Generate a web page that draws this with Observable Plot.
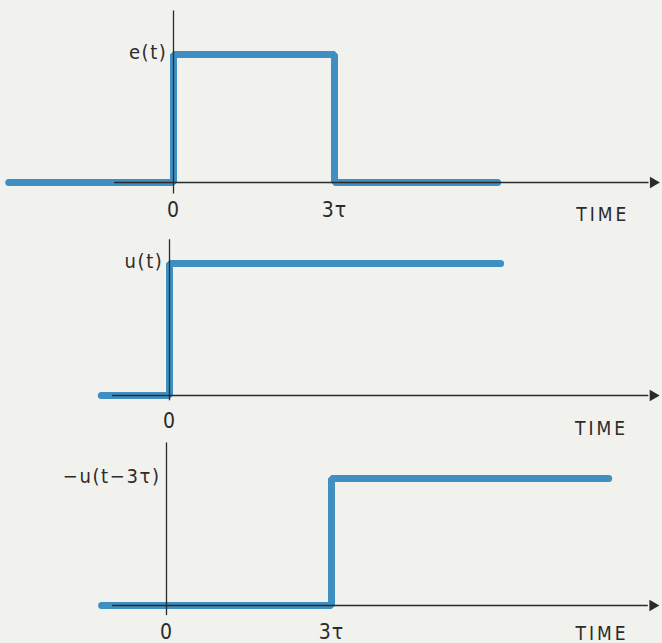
<!DOCTYPE html>
<html>
<head>
<meta charset="utf-8">
<script src="https://cdn.jsdelivr.net/npm/d3@7"></script>
<script src="https://cdn.jsdelivr.net/npm/@observablehq/plot@0.6"></script>
<style>
  html, body { margin: 0; padding: 0; background: #f1f1ee; }
  #chart { width: 662px; height: 643px; overflow: hidden; }
  #chart svg { display: block; overflow: visible; background: transparent; }
  #chart [aria-label="panel-label"] { letter-spacing: 1.6px; }
  #chart [aria-label="time-label"] { letter-spacing: 3px; }
  #chart [aria-label="tick-label"] { letter-spacing: 1px; }
</style>
</head>
<body>
<div id="chart"></div>
<script>
// ---- data (time in units of tau, amplitude normalised) ----
const panelLabels = ["e(t)", "u(t)", "\u2212u(t\u22123\u03c4)"];
const xAxisLabel = "TIME";
const tickValues = [[0, 3], [0], [0, 3]];
const tickLabels = [["0", "3\u03c4"], ["0"], ["0", "3\u03c4"]];

// e(t): pulse of width 3 tau
const eTime  = [-3.07, 0, 3, 6.04];
const eValue = [0, 1, 0, 0];
// u(t): unit step
const uTime  = [-1.27, 0, 6.17];
const uValue = [0, 1, 1];
// -u(t-3tau): delayed step
const dTime  = [-1.18, 3, 8.04];
const dValue = [0, 1, 1];

// axis extents (data units)
const axisStart = [-1.1, -1.06, -0.98];
const axisEnd   = [9.06, 9.13, 8.96];
const vAxisTop  = [1.34, 1.18, 1.28];
const vAxisBot  = [-0.09, -0.04, -0.08];
const timeLabelX = [8.0, 8.05, 7.92];

const series = [
  eTime.map((t, i) => ({t, v: eValue[i]})),
  uTime.map((t, i) => ({t, v: uValue[i]})),
  dTime.map((t, i) => ({t, v: dValue[i]}))
];

// layout per panel (pixel geometry of the scales)
const layout = [
  {height: 225, xr: [173, 334], yr: [182, 54], tickDy: 28, timeDy: 32},
  {height: 212, xr: [169, 330], yr: [170, 38], tickDy: 26, timeDy: 33},
  {height: 206, xr: [166, 331], yr: [168, 41], tickDy: 27, timeDy: 28}
];

const BLUE = "#3f8fc2";
const INK = "#2b2b2b";
const FONT = "'DejaVu Sans Condensed', 'Liberation Sans Narrow', 'Roboto Condensed', sans-serif";

const chart = document.getElementById("chart");

series.forEach((data, p) => {
  const L = layout[p];
  const svg = Plot.plot({
    width: 662,
    height: L.height,
    margin: 0,
    style: {background: "transparent", fontFamily: FONT, overflow: "visible"},
    x: {domain: [0, 3], range: L.xr, axis: null},
    y: {domain: [0, 1], range: L.yr, axis: null},
    marks: [
      Plot.line(data, {
        x: "t", y: "v", curve: "step-after",
        stroke: BLUE, strokeWidth: 7, strokeLinecap: "round", strokeLinejoin: "miter"
      }),
      // horizontal time axis
      Plot.ruleY([0], {x1: axisStart[p], x2: axisEnd[p] - 0.2, stroke: INK, strokeWidth: 1.3}),
      Plot.dot([axisEnd[p] - 0.12], {
        x: d => d, y: 0, symbol: "triangle2", rotate: 90, r: 5.5, fill: INK, stroke: "none"
      }),
      // vertical amplitude axis
      Plot.ruleX([0], {y1: vAxisBot[p], y2: vAxisTop[p], stroke: INK, strokeWidth: 1.3}),
      // panel label
      Plot.text([panelLabels[p]], {
        x: 0, y: 1, text: d => d, textAnchor: "end", dx: -6, dy: -2,
        fontSize: 20, fill: INK, fontFamily: FONT, ariaLabel: "panel-label"
      }),
      // tick labels
      Plot.text(tickValues[p], {
        x: d => d, y: 0, text: (d, i) => tickLabels[p][i], dy: L.tickDy,
        fontSize: 21, fill: INK, fontFamily: FONT, ariaLabel: "tick-label"
      }),
      // TIME label
      Plot.text([xAxisLabel], {
        x: timeLabelX[p], y: 0, text: d => d, dy: L.timeDy,
        fontSize: 19, fill: INK, fontFamily: FONT, ariaLabel: "time-label"
      })
    ]
  });
  chart.appendChild(svg);
});
// letter spacing for lettering-style labels (fallback if attribute selector misses)
d3.selectAll("#chart text").each(function() {
  const t = this.textContent;
  if (t === xAxisLabel) this.style.letterSpacing = "3px";
  else if (panelLabels.includes(t)) this.style.letterSpacing = "1.6px";
  else this.style.letterSpacing = "1px";
});
</script>
</body>
</html>
